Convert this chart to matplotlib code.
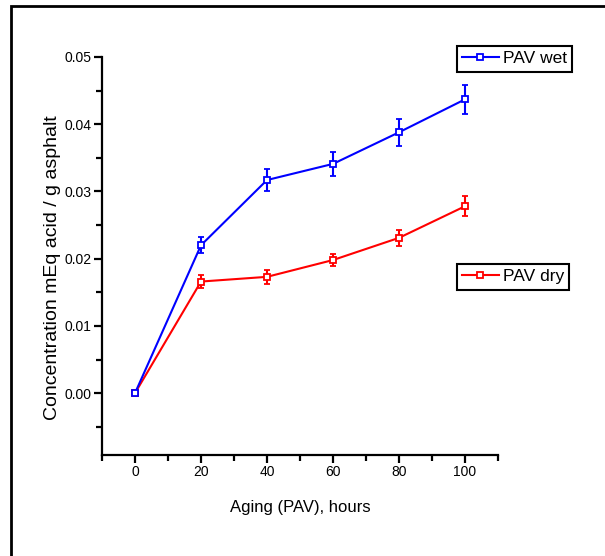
import matplotlib
matplotlib.use("Agg")
import matplotlib.pyplot as plt
from matplotlib.patches import Rectangle
from matplotlib.lines import Line2D
from matplotlib.ticker import MultipleLocator

# data
hours = [0, 20, 40, 60, 80, 100]
wet = [0.0, 0.0220, 0.0317, 0.0341, 0.0388, 0.0437]
wet_err = [0.0, 0.0012, 0.0017, 0.0018, 0.0020, 0.0022]
dry = [0.0, 0.0166, 0.0173, 0.0198, 0.0231, 0.0278]
dry_err = [0.0, 0.0009, 0.0010, 0.0009, 0.0012, 0.0015]

plt.rcParams['font.family'] = ['Liberation Sans', 'DejaVu Sans']

fig = plt.figure(figsize=(6.05, 5.56), dpi=100)
ax = fig.add_axes([102 / 605, 1 - 455 / 556, 396 / 605, 398 / 556])

style = dict(lw=1.5, marker='s', ms=5, mfc='white', mew=1.3,
             capsize=2.5, elinewidth=1.5, capthick=1.5)
l_dry = ax.errorbar(hours, dry, yerr=dry_err, color='#ff0000', **style)
l_wet = ax.errorbar(hours, wet, yerr=wet_err, color='#0000ff', **style)

ax.set_xlim(-10, 110)
ax.set_ylim(-0.0092, 0.05)
ax.xaxis.set_major_locator(MultipleLocator(20))
ax.xaxis.set_minor_locator(MultipleLocator(10))
ax.set_yticks([0.0, 0.01, 0.02, 0.03, 0.04, 0.05])
ax.set_yticklabels(['0.00', '0.01', '0.02', '0.03', '0.04', '0.05'])
ax.yaxis.set_minor_locator(MultipleLocator(0.005))

for s in ['top', 'right']:
    ax.spines[s].set_visible(False)
for s in ['left', 'bottom']:
    ax.spines[s].set_linewidth(1.6)
ax.tick_params(which='major', direction='out', length=6, width=1.6,
               labelsize=10, pad=1.5)
ax.tick_params(which='minor', direction='out', length=4, width=1.6)

ax.set_xlabel('Aging (PAV), hours', fontsize=12, labelpad=15)
ax.set_ylabel('Concentration mEq acid / g asphalt', fontsize=14)
ax.yaxis.set_label_coords(-0.1035, 0.472)

leg_kw = dict(loc='upper left', fontsize=12.5, fancybox=False,
              framealpha=1, edgecolor='black', handlelength=2.1,
              borderpad=0.3, handletextpad=0.25, borderaxespad=0)
h_wet = Line2D([], [], color='#0000ff', lw=1.5, marker='s', ms=5,
               mfc='white', mew=1.3)
h_dry = Line2D([], [], color='#ff0000', lw=1.5, marker='s', ms=5,
               mfc='white', mew=1.3)
leg1 = fig.legend([h_wet], ['PAV wet'],
                  bbox_to_anchor=(457 / 605, 1 - 46 / 556), **leg_kw)
leg1.get_frame().set_linewidth(1.5)
leg2 = fig.legend([h_dry], ['PAV dry'],
                  bbox_to_anchor=(457 / 605, 1 - 264 / 556), **leg_kw)
leg2.get_frame().set_linewidth(1.5)

# outer frame of the original image
fig.add_artist(Rectangle((11 / 605, -0.2), 1.5, 1.2 - 6 / 556,
                         transform=fig.transFigure, fill=False,
                         lw=2, ec='black'))

fig.savefig('out.png', dpi=100)
